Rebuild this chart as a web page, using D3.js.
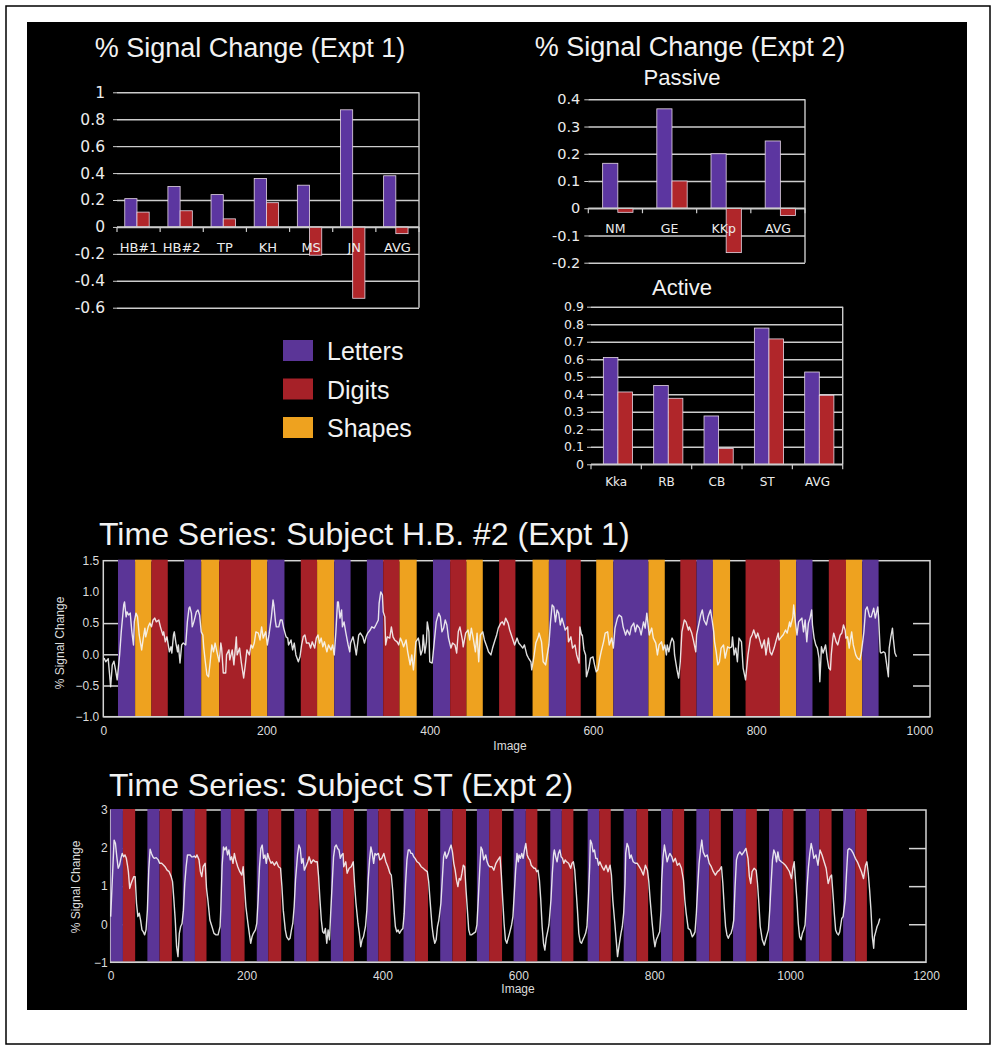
<!DOCTYPE html>
<html>
<head>
<meta charset="utf-8">
<script src="https://cdn.jsdelivr.net/npm/d3@7"></script>
<style>
  body { margin: 0; background: #fff; }
  svg { display: block; }
</style>
</head>
<body>
<div id="figure"></div>
<script>
// ---- bar chart values (% signal change) ----
const expt1Subjects = ['HB#1', 'HB#2', 'TP', 'KH', 'MS', 'JN', 'AVG']
const expt1Letters = [0.21, 0.30, 0.24, 0.36, 0.31, 0.87, 0.38]
const expt1Digits = [0.11, 0.12, 0.06, 0.18, -0.21, -0.53, -0.05]
const expt1Ticks = [1, 0.8, 0.6, 0.4, 0.2, 0, -0.2, -0.4, -0.6]

const passiveSubjects = ['NM', 'GE', 'KKp', 'AVG']
const passiveLetters = [0.165, 0.365, 0.20, 0.247]
const passiveDigits = [-0.015, 0.10, -0.163, -0.027]
const passiveTicks = [0.4, 0.3, 0.2, 0.1, 0, -0.1, -0.2]

const activeSubjects = ['Kka', 'RB', 'CB', 'ST', 'AVG']
const activeLetters = [0.61, 0.45, 0.276, 0.778, 0.527]
const activeDigits = [0.413, 0.377, 0.091, 0.716, 0.394]
const activeTicks = [0.9, 0.8, 0.7, 0.6, 0.5, 0.4, 0.3, 0.2, 0.1, 0]

const legendKeys = ['L', 'D', 'S']
const legendLabels = ['Letters', 'Digits', 'Shapes']

// ---- time series 1: H.B. #2, Expt 1 ----
// blocks: [first image, last image, condition]
const ts1Blocks = [
  [18, 39, 'L'], [39, 59, 'S'], [59, 79, 'D'], [99, 120, 'L'], [120, 142, 'S'], [142, 181, 'D'],
  [181, 201, 'S'], [201, 222, 'L'], [242, 262, 'D'], [262, 283, 'S'], [283, 303, 'L'], [323, 343, 'L'],
  [343, 363, 'D'], [363, 384, 'S'], [404, 425, 'L'], [425, 445, 'D'], [445, 465, 'S'], [485, 505, 'D'],
  [526, 546, 'S'], [546, 567, 'L'], [567, 585, 'D'], [604, 625, 'S'], [625, 668, 'L'], [668, 688, 'S'],
  [707, 727, 'D'], [727, 747, 'L'], [747, 768, 'S'], [787, 829, 'D'], [829, 849, 'S'], [849, 869, 'L'],
  [889, 910, 'D'], [910, 930, 'S'], [930, 950, 'L']
]
// [image, % signal change]
const ts1Signal = [
  [1,-0.06],[3,-0.12],[6,-0.07],[7,-0.22],[9,-0.52],[11,-0.17],[13,-0.11],[15,-0.25],[17,-0.41],
  [20,-0.01],[22,0.36],[25,0.79],[26,0.84],[28,0.6],[29,0.68],[31,0.63],[33,0.66],[35,0.36],[37,0.15],[38,0.52],
  [40,0.66],[42,0.6],[44,0.31],[47,0.07],[49,0.26],[51,0.42],[52,0.28],[55,0.44],[57,0.5],[59,0.44],
  [61,0.55],[63,0.58],[65,0.52],[68,0.55],[70,0.44],[73,0.31],[74,0.36],[76,0.2],[78,0.28],
  [81,0.04],[83,0.12],[84,0.02],[86,0.31],[87,0.36],[89,0.18],[91,0.04],[92,0.15],[94,-0.14],[96,0.15],[98,0.18],
  [101,0.15],[103,0.52],[105,0.74],[106,0.76],[108,0.66],[109,0.44],[111,0.52],[114,0.68],[116,0.71],[118,0.63],[120,0.36],
  [122,0.31],[123,0.12],[125,-0.12],[127,-0.33],[129,-0.36],[131,-0.12],[133,0.15],[135,0.04],[137,0.18],[140,-0.01],
  [142,-0.12],[144,0.18],[145,0.1],[147,-0.3],[150,-0.3],[151,-0.01],[154,0.07],[155,-0.09],[158,0.07],[160,-0.17],
  [163,0.28],[164,-0.01],[167,0.1],[169,-0.12],[172,-0.38],[174,-0.17],[176,0.07],[179,-0.01],[181,0.15],
  [183,0.1],[185,0.18],[187,0.36],[190,0.34],[192,0.23],[194,0.44],[196,0.26],[199,0.36],[201,0.15],
  [203,0.31],[206,0.6],[208,0.87],[209,0.79],[211,0.52],[212,0.44],[215,0.44],[217,0.55],[219,0.55],[221,0.42],
  [224,0.28],[226,0.26],[227,0.15],[229,0.2],[230,0.23],[232,0.07],[234,0.18],[236,-0.01],[239,-0.12],[241,-0.04],
  [243,0.15],[245,0.28],[247,0.31],[249,0.18],[252,0.18],[254,0.1],[256,0.2],[259,0.1],[261,0.26],[263,0.31],
  [265,0.18],[267,0.26],[269,0.12],[271,0.2],[274,0.04],[276,0.15],[279,0.07],[281,0.15],[283,-0.01],
  [285,0.36],[287,0.84],[288,0.84],[290,0.58],[292,0.71],[293,0.44],[295,0.52],[297,0.36],[300,0.15],[302,0.04],
  [303,0.18],[306,0.28],[308,0.15],[310,-0.01],[313,0.31],[315,0.34],[318,0.28],[320,0.18],[322,0.28],
  [324,0.34],[327,0.39],[329,0.44],[332,0.42],[334,0.47],[337,0.55],[338,0.82],[340,1.0],[342,0.95],[343,0.68],
  [345,0.6],[346,0.15],[348,0.28],[351,0.26],[353,0.44],[355,0.28],[357,0.23],[360,0.2],[362,0.15],
  [364,0.26],[366,0.2],[368,0.12],[371,0.23],[373,0.04],[376,-0.17],[378,-0.01],[380,-0.25],[382,0.04],[383,0.2],
  [386,0.26],[387,0.2],[389,-0.01],[391,0.07],[392,0.31],[394,0.02],[396,0.2],[397,0.52],[399,0.36],[400,-0.12],[403,-0.14],
  [406,0.26],[408,0.52],[411,0.66],[413,0.6],[415,0.36],[417,0.42],[419,0.55],[421,0.47],[423,0.26],
  [426,0.1],[428,0.18],[431,0.15],[433,0.02],[435,0.36],[437,0.44],[440,0.23],[441,0.12],[444,0.34],
  [447,0.39],[449,0.23],[451,0.42],[453,0.28],[456,0.04],[458,0.34],[460,-0.12],[462,0.31],[465,0.36],
  [467,0.23],[470,0.12],[472,0.04],[475,-0.01],[477,0.1],[480,0.23],[482,0.31],[484,0.42],
  [487,0.5],[489,0.52],[491,0.47],[493,0.58],[496,0.5],[498,0.39],
  [502,0.23],[504,0.15],[507,0.26],[509,0.18],[511,0.15],[514,0.1],[516,0.15],[519,-0.01],[521,-0.06],[524,-0.12],[525,-0.25],
  [528,-0.01],[530,0.18],[533,0.28],[534,0.34],[537,0.2],[539,-0.12],[542,-0.17],[544,-0.01],[546,0.15],
  [548,0.52],[550,0.79],[552,0.76],[554,0.52],[556,0.71],[558,0.66],[560,0.47],[562,0.58],[565,0.44],[566,0.39],
  [569,0.44],[570,0.2],[573,0.28],[575,0.1],[578,0.15],[580,-0.01],[583,-0.14],[584,0.44],[586,0.31],
  [587,0.31],[589,0.07],[591,-0.01],[592,-0.36],[595,-0.22],[597,-0.06],[600,-0.04],[602,-0.17],[604,-0.28],
  [606,-0.25],[608,-0.09],[610,0.04],[613,0.2],[615,0.34],[618,0.36],[620,0.15],[623,0.26],[625,0.1],
  [627,0.42],[630,0.58],[632,0.63],[635,0.6],[637,0.44],[640,0.31],[642,0.39],[645,0.31],[647,0.44],[650,0.5],
  [652,0.36],[654,0.47],[657,0.42],[659,0.31],[662,0.52],[664,0.42],[666,0.66],[668,0.42],
  [669,0.31],[672,0.42],[674,0.26],[677,0.18],[679,-0.01],[681,0.15],[684,0.2],[686,0.07],[688,0.15],
  [690,-0.01],[691,0.15],[693,0.04],[695,0.18],[697,0.26],[699,0.2],[700,-0.01],[703,-0.25],[705,-0.38],[707,-0.12],
  [709,0.36],[712,0.55],[714,0.52],[717,0.39],[718,0.44],[721,0.34],[723,0.23],[726,0.04],[727,0.31],
  [730,0.5],[732,0.63],[734,0.71],[736,0.55],[739,0.47],[741,0.6],[744,0.71],[746,0.55],[748,0.36],
  [749,0.2],[751,0.04],[753,-0.17],[755,-0.12],[757,0.1],[760,0.15],[762,-0.06],[765,0.12],[767,0.1],
  [770,0.12],[771,0.28],[773,-0.01],[775,0.1],[777,-0.12],[779,0.26],[782,0.2],[784,-0.22],[787,-0.41],
  [790,-0.01],[793,0.26],[795,0.31],[797,0.39],[800,0.26],[802,0.34],[805,0.2],[807,0.1],[810,0.23],[812,-0.01],
  [815,0.26],[817,0.04],[819,-0.01],[822,0.1],[824,0.2],[827,0.34],[828,0.23],
  [831,0.28],[833,0.31],[836,0.39],[838,0.34],[841,0.52],[842,0.44],[845,0.6],[846,0.79],[848,0.52],
  [850,0.31],[852,0.52],[854,0.55],[856,0.58],[858,0.36],[860,0.55],[862,0.2],[864,0.5],[866,0.58],[868,0.71],[869,0.47],
  [871,0.26],[873,0.15],[875,0.1],[877,-0.06],[878,-0.44],[880,0.12],[882,0.02],[885,0.15],[887,-0.06],[889,-0.22],[891,-0.25],
  [892,-0.01],[894,0.26],[895,0.34],[898,0.2],[900,0.15],[903,0.31],[905,0.34],[907,0.47],[909,0.39],
  [910,0.26],[912,0.28],[914,0.1],[917,0.36],[919,0.15],[922,-0.01],[924,-0.06],[927,-0.09],[929,0.04],
  [932,0.36],[934,0.71],[936,0.76],[939,0.6],[941,0.6],[944,0.74],[946,0.58],[949,0.76],[950,0.6],
  [952,0.04],[953,0.02],[956,0.04],[958,0.02],[960,-0.17],[962,-0.36],[963,0.1],[965,0.28],[967,0.42],[968,0.26],
  [970,0.02],[972,-0.04]
]
const ts1XTicks = [0, 200, 400, 600, 800, 1000]
const ts1YTicks = [1.5, 1.0, 0.5, 0.0, -0.5, -1.0]
const ts1InnerTicks = [0.5, 0, -0.5]

// ---- time series 2: ST, Expt 2 ----
const ts2Blocks = [
  [0, 18, 'L'], [18, 36, 'D'], [54, 72, 'L'], [72, 90, 'D'], [106, 124, 'L'], [124, 141, 'D'],
  [162, 177, 'L'], [177, 197, 'D'], [215, 232, 'L'], [232, 251, 'D'], [270, 288, 'L'], [288, 306, 'D'],
  [324, 342, 'L'], [342, 358, 'D'], [377, 394, 'L'], [394, 412, 'D'], [431, 448, 'L'], [448, 467, 'D'],
  [485, 503, 'L'], [503, 523, 'D'], [539, 557, 'L'], [557, 576, 'D'], [593, 611, 'L'], [611, 628, 'D'],
  [647, 664, 'L'], [664, 681, 'D'], [702, 719, 'L'], [719, 736, 'D'], [755, 774, 'L'], [774, 791, 'D'],
  [810, 827, 'L'], [827, 844, 'D'], [862, 881, 'L'], [881, 898, 'D'], [916, 935, 'L'], [935, 951, 'D'],
  [969, 989, 'L'], [989, 1005, 'D'], [1023, 1043, 'L'], [1043, 1061, 'D'], [1078, 1096, 'L'], [1096, 1113, 'D']
]
const ts2Signal = [
  [0,0.20],[3,1.42],[5,2.21],[7,2.12],[9,1.77],[11,1.47],[13,1.55],[15,1.73],[17,1.86],[19,1.77],[21,1.82],[23,1.73],
  [25,1.51],[26,1.38],[28,0.94],[30,1.07],[32,1.16],[34,1.25],[36,1.25],[38,0.55],[40,0.20],[42,0.29],[44,0.11],
  [46,-0.15],[48,-0.20],[50,-0.28],[52,-0.15],[54,0.37],
  [56,1.42],[58,1.97],[60,1.86],[62,1.77],[64,1.73],[67,1.75],[70,1.69],[72,1.60],[75,1.60],[78,1.55],[80,1.51],
  [83,1.42],[86,1.38],[89,1.25],[91,1.12],[93,0.64],[95,0.11],[97,-0.59],[99,-0.85],[101,-0.24],[103,-0.06],[105,0.02],
  [107,0.37],[109,1.07],[111,1.51],[113,1.82],[115,1.82],[117,1.82],[119,1.77],[121,1.77],[123,1.79],[125,1.75],
  [127,1.82],[130,1.69],[132,1.38],[134,1.25],[136,1.51],[139,1.60],[141,0.94],[143,0.64],[146,0.11],[149,-0.06],
  [152,-0.24],[155,-0.28],[158,-0.28],[161,-0.06],
  [162,0.37],[164,1.55],[166,2.03],[168,1.95],[170,2.03],[172,1.82],[174,1.95],[176,1.69],[178,1.77],[180,1.60],
  [182,1.86],[184,1.69],[187,1.51],[190,1.38],[193,1.29],[195,1.51],[197,0.99],[199,0.46],[202,0.02],[204,-0.24],
  [206,-0.50],[208,-0.33],[210,-0.24],[213,-0.15],[215,0.02],
  [217,0.64],[219,1.51],[221,1.99],[223,2.08],[225,1.73],[227,1.82],[229,1.60],[231,1.86],[233,1.73],[236,1.60],
  [238,1.64],[241,1.55],[244,1.64],[247,1.51],[250,1.47],[252,0.99],[254,0.37],[257,-0.15],[259,-0.33],[262,-0.41],
  [264,-0.37],[266,-0.15],[268,0.02],
  [270,0.46],[272,1.16],[275,1.82],[277,2.08],[279,1.99],[281,1.60],[283,1.73],[285,1.42],[288,1.55],[290,1.64],
  [292,1.77],[295,1.60],[298,1.69],[301,1.64],[304,1.64],[306,1.25],[308,0.64],[310,0.11],[312,-0.20],[314,-0.24],
  [316,-0.11],[318,-0.50],[320,-0.15],[322,-0.41],
  [324,0.37],[326,1.07],[328,1.77],[330,2.03],[332,2.08],[334,1.99],[336,1.95],[338,1.73],[340,1.82],[342,1.86],
  [343,1.51],[346,1.64],[348,1.34],[351,1.47],[354,1.51],[357,1.64],[359,1.03],[361,0.55],[364,0.02],[366,-0.24],
  [368,-0.59],[370,-0.41],[372,-0.33],[375,-0.06],
  [377,0.37],[379,1.16],[381,1.69],[383,2.03],[385,1.86],[387,1.60],[389,1.86],[391,1.82],[394,1.86],[396,1.69],
  [399,1.73],[402,1.86],[405,1.64],[408,1.51],[411,1.34],[413,1.29],[415,0.90],[417,0.37],[419,-0.06],[421,-0.20],
  [423,-0.15],[425,-0.24],[428,-0.15],[430,-0.11],
  [432,0.29],[434,1.07],[436,1.69],[438,1.95],[440,1.95],[442,1.86],[444,1.86],[446,1.77],[448,1.73],[451,1.64],
  [454,1.60],[457,1.51],[460,1.47],[463,1.42],[466,1.38],[468,1.12],[470,0.64],[473,-0.06],[475,-0.33],[477,-0.50],
  [479,-0.41],[481,-0.06],[483,0.11],
  [486,0.55],[488,1.16],[490,1.77],[492,1.90],[494,1.73],[496,1.82],[497,1.86],[499,1.99],[501,2.08],[503,1.90],
  [505,1.60],[507,1.42],[509,1.16],[511,0.99],[513,1.20],[515,1.16],[517,1.34],[519,1.55],[521,1.51],[523,0.90],
  [525,0.37],[527,-0.15],[529,-0.28],[531,-0.28],[534,-0.24],[537,-0.20],[539,-0.02],
  [541,0.64],[543,1.38],[545,2.03],[547,1.95],[549,1.69],[550,1.73],[552,1.82],[554,1.64],[556,1.55],[558,1.51],
  [561,1.51],[564,1.42],[567,1.60],[570,1.69],[573,1.77],[575,1.29],[577,0.64],[579,0.02],[581,-0.41],[583,-0.50],
  [585,-0.37],[587,-0.24],
  [590,-0.02],[592,0.20],[594,0.81],[596,1.42],[598,1.86],[600,1.64],[601,1.82],[603,1.73],[605,1.86],[607,1.73],
  [609,1.95],[611,2.12],[613,1.82],[615,1.73],[617,1.69],[619,1.55],[621,1.51],[623,1.47],[625,1.47],[627,1.38],
  [629,1.42],[631,1.16],[633,0.64],[635,-0.06],[637,-0.50],[639,-0.68],[641,-0.37],[643,-0.20],[645,-0.02],
  [648,0.64],[650,1.34],[652,1.86],[653,1.95],[655,1.77],[657,1.64],[659,1.86],[661,1.95],[663,1.77],[665,1.73],
  [667,1.60],[669,1.69],[671,1.64],[674,1.60],[677,1.47],[679,1.60],[681,1.64],[683,1.42],[685,0.90],[687,0.37],
  [689,-0.24],[691,-0.46],[693,-0.50],[695,-0.41],[697,-0.33],[699,-0.24],[701,-0.06],
  [703,0.64],[705,1.51],[706,2.21],[708,2.12],[710,1.90],[712,1.95],[714,1.73],[716,1.73],[718,1.55],[720,1.64],
  [723,1.51],[726,1.42],[729,1.55],[732,1.38],[735,1.55],[737,1.29],[739,0.64],[742,0.02],[744,-0.41],[746,-0.85],
  [748,-0.59],[751,-0.24],[753,-0.06],
  [755,0.29],[757,1.07],[758,1.86],[760,2.12],[762,2.03],[764,1.73],[766,1.82],[769,1.64],[772,1.60],[775,1.60],
  [778,1.51],[781,1.42],[784,1.29],[787,1.55],[790,1.42],[792,1.12],[794,0.64],[797,0.02],[799,-0.33],[801,-0.59],
  [803,-0.41],[805,-0.33],[808,-0.20],
  [810,0.37],[811,1.16],[813,1.77],[815,2.08],[817,1.86],[819,1.64],[821,1.77],[823,1.86],[826,1.77],[828,1.64],
  [831,1.73],[834,1.55],[837,1.60],[840,1.47],[843,1.16],[845,0.64],[847,0.29],[850,-0.11],[853,-0.15],[856,-0.33],
  [858,-0.28],[860,-0.20],
  [862,0.29],[864,0.99],[866,1.60],[868,1.95],[870,2.21],[872,1.90],[875,1.77],[878,1.82],[881,1.60],[884,1.51],
  [887,1.38],[890,1.29],[893,1.38],[896,1.42],[899,1.51],[901,1.07],[903,0.46],[905,-0.06],[907,-0.28],[909,-0.37],
  [911,-0.28],[913,-0.24],[915,-0.11],
  [917,0.11],[919,0.99],[921,1.69],[923,1.82],[926,1.90],[929,1.82],[932,1.90],[935,1.99],[938,1.73],[940,1.25],
  [942,1.07],[944,1.38],[947,1.47],[950,1.42],[952,1.07],[954,0.55],[956,-0.06],[959,-0.41],[962,-0.55],[964,-0.41],
  [966,-0.28],[968,-0.15],
  [970,0.37],[972,1.07],[974,1.69],[976,1.95],[978,1.86],[980,1.64],[982,1.90],[984,1.69],[987,1.64],[990,1.60],
  [993,1.55],[996,1.47],[999,1.38],[1002,1.20],[1004,1.47],[1006,1.64],[1008,1.12],[1010,0.64],[1012,0.02],
  [1014,-0.33],[1016,-0.41],[1018,-0.24],[1020,-0.15],[1022,-0.02],
  [1023,0.29],[1025,0.99],[1027,1.51],[1029,1.86],[1031,2.12],[1033,1.95],[1035,1.73],[1038,1.82],[1041,1.55],
  [1044,1.95],[1047,1.82],[1050,1.64],[1053,1.47],[1056,1.07],[1059,1.25],[1061,1.29],[1063,0.81],[1065,0.29],
  [1067,-0.15],[1069,-0.24],[1071,-0.28],[1073,-0.20],[1076,0.15],[1078,0.20],
  [1081,0.64],[1083,1.34],[1085,1.95],[1087,1.99],[1090,1.95],[1093,1.86],[1096,1.73],[1099,1.64],[1102,1.51],
  [1105,1.38],[1108,1.20],[1111,1.55],[1113,1.64],[1115,1.34],[1117,0.90],[1119,0.37],[1121,-0.33],[1123,-0.63],
  [1124,-0.33],[1126,-0.20],[1128,-0.06],[1130,0.02],[1132,0.15]
]
const ts2XTicks = [0, 200, 400, 600, 800, 1000, 1200]
const ts2YTicks = [3, 2, 1, 0, -1]
const ts2InnerTicks = [2, 1, 0]

// ---- styling ----
const condColors = { L: '#5b3597', D: '#a62128', S: '#eea21f' }
const barColors = { L: '#5c36a0', D: '#b0262a' }
const gridColor = '#cccccc'
const textColor = '#ececec'
const titleFont = '"Liberation Sans", Arial, Helvetica, sans-serif'
const labelFont = '"DejaVu Sans", Verdana, sans-serif'

const svg = d3.select('#figure')
  .append('svg')
  .attr('width', 993)
  .attr('height', 1046)

// outer frame and black panel
svg.append('rect')
  .attr('x', 6).attr('y', 6).attr('width', 984).attr('height', 1038)
  .attr('fill', '#fff').attr('stroke', '#000').attr('stroke-width', 1.5)
svg.append('rect')
  .attr('x', 27).attr('y', 22).attr('width', 940).attr('height', 988)
  .attr('fill', '#000')

function title(txt, x, y, size, anchor) {
  svg.append('text')
    .attr('x', x).attr('y', y)
    .attr('text-anchor', anchor || 'middle')
    .attr('fill', '#f2f2f2')
    .style('font-family', titleFont)
    .style('font-size', size + 'px')
    .text(txt)
}

const barFormat = d => (d === 0 ? '0' : String(+d.toFixed(1)))

function barChart(cfg) {
  const g = svg.append('g')
  const y = d3.scaleLinear().domain(cfg.yDomain).range([cfg.bottom, cfg.top])
  const x = d3.scaleBand().domain(cfg.subjects).range([cfg.left, cfg.right])
  const bw = x.bandwidth()

  // gridlines
  g.append('g')
    .attr('transform', 'translate(' + cfg.left + ',0)')
    .call(d3.axisLeft(y).tickValues(cfg.ticks).tickSize(-(cfg.right - cfg.left)).tickFormat(''))
    .call(a => a.select('.domain').remove())
    .selectAll('line')
    .attr('stroke', gridColor)
    .attr('stroke-width', 1.4)

  g.append('line')
    .attr('x1', cfg.right).attr('x2', cfg.right)
    .attr('y1', cfg.top).attr('y2', cfg.bottom)
    .attr('stroke', gridColor).attr('stroke-width', 1.4)

  // value labels
  const yAxis = g.append('g')
    .attr('transform', 'translate(' + cfg.left + ',0)')
    .call(d3.axisLeft(y).tickValues(cfg.ticks).tickSize(4).tickPadding(cfg.pad).tickFormat(barFormat))
  yAxis.select('.domain').remove()
  yAxis.selectAll('line').attr('stroke', gridColor)
  yAxis.selectAll('text')
    .attr('fill', textColor)
    .style('font-family', labelFont)
    .style('font-size', cfg.tickSize + 'px')

  const rows = cfg.subjects.map((s, i) => ({ s: s, L: cfg.letters[i], D: cfg.digits[i] }))

  ;['L', 'D'].forEach((k, j) => {
    g.selectAll('.bar-' + k)
      .data(rows)
      .enter()
      .append('rect')
      .attr('class', 'bar-' + k)
      .attr('x', d => x(d.s) + bw * cfg.offset + j * bw * cfg.barW)
      .attr('width', bw * cfg.barW)
      .attr('y', d => y(Math.max(0, d[k])))
      .attr('height', d => Math.abs(y(d[k]) - y(0)))
      .attr('fill', barColors[k])
      .attr('stroke', '#e6d8e6')
      .attr('stroke-width', 0.8)
  })

  // zero line with category ticks
  g.append('line')
    .attr('x1', cfg.left).attr('x2', cfg.right)
    .attr('y1', y(0)).attr('y2', y(0))
    .attr('stroke', gridColor).attr('stroke-width', 1.4)
  const edges = cfg.subjects.map(s => x(s)).concat([cfg.right])
  g.selectAll('.cat-tick')
    .data(edges)
    .enter()
    .append('line')
    .attr('x1', d => d).attr('x2', d => d)
    .attr('y1', y(0)).attr('y2', y(0) + 5)
    .attr('stroke', gridColor).attr('stroke-width', 1.2)

  g.selectAll('.cat-label')
    .data(cfg.subjects)
    .enter()
    .append('text')
    .attr('x', d => x(d) + bw / 2)
    .attr('y', y(0) + cfg.labelDrop)
    .attr('text-anchor', 'middle')
    .attr('fill', textColor)
    .style('font-family', labelFont)
    .style('font-size', cfg.catSize + 'px')
    .text(d => d)
}

function timeSeries(cfg) {
  const g = svg.append('g')
  const x = d3.scaleLinear().domain(cfg.xDomain).range([cfg.left, cfg.right])
  const y = d3.scaleLinear().domain(cfg.yDomain).range([cfg.bottom, cfg.top])
  const frame = '#d4d4d4'

  g.append('rect')
    .attr('x', cfg.left).attr('y', cfg.top)
    .attr('width', cfg.right - cfg.left).attr('height', cfg.bottom - cfg.top)
    .attr('fill', 'none').attr('stroke', frame).attr('stroke-width', 1.5)

  const inL = g.append('g')
    .attr('transform', 'translate(' + cfg.left + ',0)')
    .call(d3.axisRight(y).tickValues(cfg.innerTicks).tickSize(17).tickFormat(''))
  const inR = g.append('g')
    .attr('transform', 'translate(' + cfg.right + ',0)')
    .call(d3.axisLeft(y).tickValues(cfg.innerTicks).tickSize(17).tickFormat(''))
  ;[inL, inR].forEach(a => {
    a.select('.domain').remove()
    a.selectAll('line').attr('stroke', frame).attr('stroke-width', 1.5)
  })

  g.selectAll('.block')
    .data(cfg.blocks)
    .enter()
    .append('rect')
    .attr('x', d => x(d[0]))
    .attr('width', d => x(d[1]) - x(d[0]))
    .attr('y', cfg.top - 1)
    .attr('height', cfg.bottom - cfg.top + 0.3)
    .attr('fill', d => condColors[d[2]])

  g.append('line')
    .attr('x1', cfg.left).attr('x2', cfg.right)
    .attr('y1', cfg.bottom).attr('y2', cfg.bottom)
    .attr('stroke', frame).attr('stroke-width', 1.5)

  const line = d3.line()
    .x(d => x(d[0]))
    .y(d => y(d[1]))

  g.append('path')
    .datum(cfg.signal)
    .attr('d', line)
    .attr('fill', 'none')
    .attr('stroke', '#f6f6f6')
    .attr('stroke-opacity', 0.9)
    .attr('stroke-width', 1.4)
    .attr('stroke-linejoin', 'round')

  const yAxis = g.append('g')
    .attr('transform', 'translate(' + cfg.left + ',0)')
    .call(d3.axisLeft(y).tickValues(cfg.yTicks).tickSize(0).tickPadding(cfg.yPad).tickFormat(cfg.yFormat))
  const xAxis = g.append('g')
    .attr('transform', 'translate(0,' + cfg.bottom + ')')
    .call(d3.axisBottom(x).tickValues(cfg.xTicks).tickSize(0).tickPadding(cfg.xPad).tickFormat(d3.format('d')))
  ;[yAxis, xAxis].forEach(a => {
    a.select('.domain').remove()
    a.selectAll('text')
      .attr('fill', '#dcdcdc')
      .style('font-family', titleFont)
      .style('font-size', '12px')
  })

  g.append('text')
    .attr('x', cfg.xLabel[0]).attr('y', cfg.xLabel[1])
    .attr('text-anchor', 'middle')
    .attr('fill', '#dcdcdc')
    .style('font-family', titleFont)
    .style('font-size', '12px')
    .text('Image')

  g.append('text')
    .attr('transform', 'translate(' + cfg.yLabel[0] + ',' + cfg.yLabel[1] + ') rotate(-90)')
    .attr('text-anchor', 'middle')
    .attr('fill', '#dcdcdc')
    .style('font-family', titleFont)
    .style('font-size', '12px')
    .text('% Signal Change')
}

// ---- top: bar charts ----
title('% Signal Change (Expt 1)', 250, 57, 27)
title('% Signal Change (Expt 2)', 690, 56, 27)
title('Passive', 682, 85, 22)
title('Active', 682, 295, 22)

barChart({
  subjects: expt1Subjects, letters: expt1Letters, digits: expt1Digits, ticks: expt1Ticks,
  yDomain: [-0.6, 1], left: 117, right: 419, top: 92.3, bottom: 307.7,
  offset: 0.18, barW: 0.283, labelDrop: 25, pad: 8, tickSize: 15.5, catSize: 13
})

barChart({
  subjects: passiveSubjects, letters: passiveLetters, digits: passiveDigits, ticks: passiveTicks,
  yDomain: [-0.2, 0.4], left: 588.3, right: 805, top: 99.3, bottom: 262.7,
  offset: 0.265, barW: 0.28, labelDrop: 25, pad: 4, tickSize: 14.5, catSize: 12.5
})

barChart({
  subjects: activeSubjects, letters: activeLetters, digits: activeDigits, ticks: activeTicks,
  yDomain: [0, 0.9], left: 591, right: 842.7, top: 306.7, bottom: 464.3,
  offset: 0.245, barW: 0.29, labelDrop: 22, pad: 3, tickSize: 12.5, catSize: 12
})

// legend
const legend = svg.append('g').attr('transform', 'translate(283,340)')
legend.selectAll('rect')
  .data(legendKeys)
  .enter()
  .append('rect')
  .attr('x', 0)
  .attr('y', (d, i) => i * 38.5)
  .attr('width', 30)
  .attr('height', 21)
  .attr('fill', d => condColors[d])
legend.selectAll('text')
  .data(legendLabels)
  .enter()
  .append('text')
  .attr('x', 44)
  .attr('y', (d, i) => i * 38.5 + 20)
  .attr('fill', '#f2f2f2')
  .style('font-family', titleFont)
  .style('font-size', '25px')
  .text(d => d)

// ---- bottom: time series ----
title('Time Series: Subject H.B. #2 (Expt 1)', 99, 545, 32, 'start')
title('Time Series: Subject ST (Expt 2)', 109, 796, 32, 'start')

timeSeries({
  blocks: ts1Blocks, signal: ts1Signal,
  xDomain: [0, 1013], yDomain: [-1, 1.5],
  left: 103.3, right: 930, top: 560.7, bottom: 716.7,
  xTicks: ts1XTicks, yTicks: ts1YTicks, innerTicks: ts1InnerTicks,
  yFormat: d3.format('.1f'), yPad: 4, xPad: 10,
  xLabel: [510, 750], yLabel: [64, 643]
})

timeSeries({
  blocks: ts2Blocks, signal: ts2Signal,
  xDomain: [0, 1200], yDomain: [-1, 3],
  left: 110.7, right: 926, top: 810, bottom: 962.3,
  xTicks: ts2XTicks, yTicks: ts2YTicks, innerTicks: ts2InnerTicks,
  yFormat: d3.format('d'), yPad: 3, xPad: 9,
  xLabel: [518, 993], yLabel: [80, 887]
})
</script>
</body>
</html>
